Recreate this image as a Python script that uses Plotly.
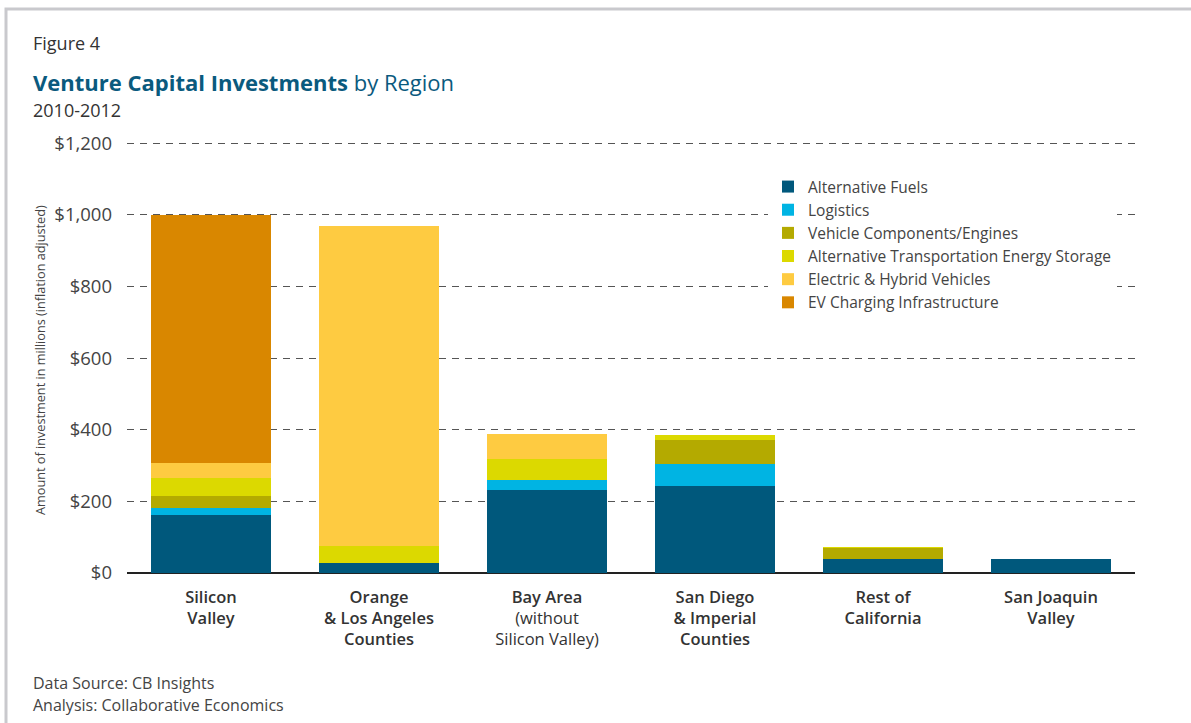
import plotly.graph_objects as go

regions = ["Silicon Valley", "Orange & Los Angeles Counties", "Bay Area (without Silicon Valley)",
           "San Diego & Imperial Counties", "Rest of California", "San Joaquin Valley"]
B0 = '<span style="font-weight:600">'
B1 = '</span>'
region_labels = [B0 + "Silicon" + B1 + "<br>" + B0 + "Valley" + B1,
                 B0 + "Orange" + B1 + "<br>" + B0 + "& Los Angeles" + B1 + "<br>" + B0 + "Counties" + B1,
                 B0 + "Bay Area" + B1 + "<br>(without<br>Silicon Valley)",
                 B0 + "San Diego" + B1 + "<br>" + B0 + "& Imperial" + B1 + "<br>" + B0 + "Counties" + B1,
                 B0 + "Rest of" + B1 + "<br>" + B0 + "California" + B1,
                 B0 + "San Joaquin" + B1 + "<br>" + B0 + "Valley" + B1]

series_names = ["Alternative Fuels", "Logistics", "Vehicle Components/Engines",
                "Alternative Transportation Energy Storage", "Electric & Hybrid Vehicles",
                "EV Charging Infrastructure"]
alternative_fuels = [161, 27, 233, 244, 38, 38]
logistics = [21, 0, 26, 60, 0, 0]
vehicle_components = [32, 0, 0, 66, 32, 0]
energy_storage = [50, 47, 58, 14, 2, 0]
electric_hybrid = [42, 896, 70, 0, 0, 0]
ev_charging = [694, 0, 0, 0, 0, 0]
series_values = [alternative_fuels, logistics, vehicle_components, energy_storage,
                 electric_hybrid, ev_charging]
series_colors = ["#00587c", "#00b4e3", "#b4aa00", "#dcd900", "#fecb41", "#d98700"]

y_ticks = [0, 200, 400, 600, 800, 1000, 1200]
y_tick_labels = ["$0", "$200", "$400", "$600", "$800", "$1,000", "$1,200"]
Y_TOP = 1206

FONT = "'Open Sans', Lato, sans-serif"
TXT = "#3a3a3a"

fig = go.Figure()
for name, vals, col in zip(series_names, series_values, series_colors):
    fig.add_trace(go.Bar(x=regions, y=vals, name=name, marker=dict(color=col, line=dict(width=0))))

W, H = 1191, 723
L, R, B = 127, 56, 150
BASE = H - B  # pixel row of $0
PX_PER = 430 / 1200
T = round(BASE - Y_TOP * PX_PER)
pw, ph = W - L - R, H - T - B

def px(x):
    return (x - L) / pw

def py(y):
    return (BASE - y) / ph

fig.update_layout(
    width=W, height=H,
    barmode="stack", bargap=0.28,
    plot_bgcolor="white", paper_bgcolor="white",
    margin=dict(l=L, r=R, t=T, b=B),
    font=dict(family=FONT, color=TXT, size=16),
    legend=dict(x=px(768), y=py(170), xanchor="left", yanchor="top",
                traceorder="normal", bgcolor="white", font=dict(size=15.5, color="#444"),
                tracegroupgap=0, itemclick=False),
    xaxis=dict(tickmode="array", tickvals=regions, ticktext=region_labels,
               tickfont=dict(size=16.5, color="#333"), showgrid=False, ticks="",
               showline=False, range=[-0.5, 5.5], ticklabelstandoff=12),
    yaxis=dict(range=[0, Y_TOP], tickvals=y_ticks, ticktext=y_tick_labels,
               tickfont=dict(size=18.5, color="#444"), showgrid=True, gridcolor="#555",
               griddash="7px,6px", gridwidth=1, zeroline=True, zerolinecolor="#222",
               zerolinewidth=2, ticks="", ticklabelstandoff=14),
)

# frame border (page crop)
fig.add_shape(type="rect", xref="paper", yref="paper", x0=px(6), x1=px(1300), y0=py(900), y1=py(9),
              line=dict(color="#c9c9cd", width=3), fillcolor="rgba(0,0,0,0)", layer="above")

ann = [
    dict(text="Figure 4", x=px(31), y=py(43), size=18, color="#333"),
    dict(text="<b>Venture Capital Investments</b> by Region", x=px(31), y=py(82.5), size=22,
         color="#0a5a7e"),
    dict(text="2010-2012", x=px(31), y=py(110), size=18, color="#333"),
    dict(text="Data Source: CB Insights", x=px(31), y=py(683), size=16, color="#444"),
    dict(text="Analysis: Collaborative Economics", x=px(31), y=py(705), size=16, color="#444"),
]
for a in ann:
    fig.add_annotation(text=a["text"], xref="paper", yref="paper", x=a["x"], y=a["y"],
                       xanchor="left", yanchor="middle", showarrow=False,
                       font=dict(size=a["size"], color=a["color"], family=FONT))

fig.add_annotation(text="Amount of investment in millions (inflation adjusted)", xref="paper", yref="paper",
                   x=px(40), y=py(360), xanchor="center", yanchor="middle", textangle=-90,
                   showarrow=False, font=dict(size=12.7, color="#444", family=FONT))

fig.write_html("out.html", config={"displayModeBar": False},
               post_script="document.body.style.margin='0';")
